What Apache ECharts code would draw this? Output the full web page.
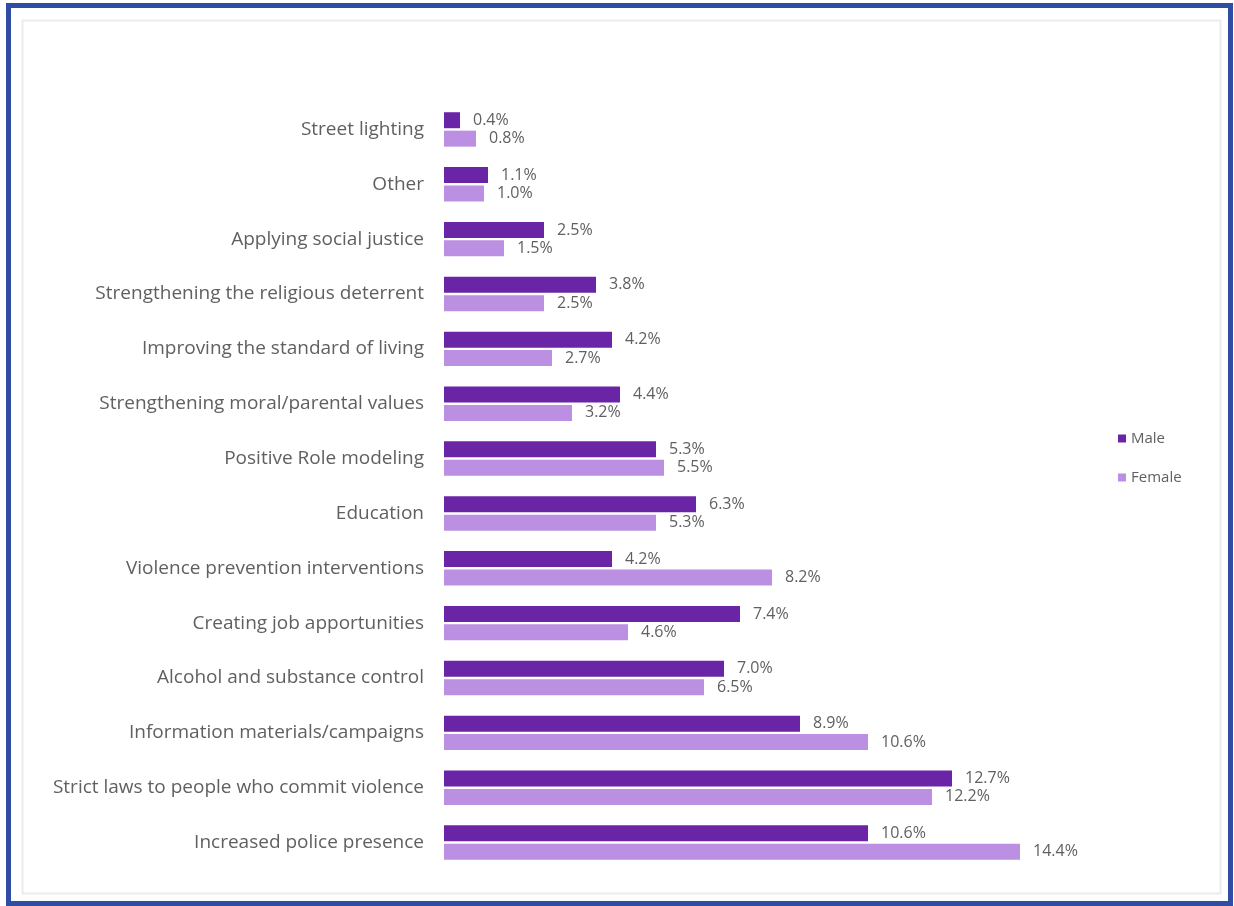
<!DOCTYPE html>
<html>
<head>
<meta charset="utf-8">
<script src="https://cdn.jsdelivr.net/npm/echarts@6/dist/echarts.min.js"></script>
<style>
  html, body { margin: 0; padding: 0; background: #ffffff; }
  #chart { width: 1234px; height: 906px; }
</style>
</head>
<body>
<div id="chart"></div>
<script>
// Suggested measures, listed top to bottom
const categories = [
  'Street lighting',
  'Other',
  'Applying social justice',
  'Strengthening the religious deterrent',
  'Improving the standard of living',
  'Strengthening moral/parental values',
  'Positive Role modeling',
  'Education',
  'Violence prevention interventions',
  'Creating job apportunities',
  'Alcohol and substance control',
  'Information materials/campaigns',
  'Strict laws to people who commit violence',
  'Increased police presence'
];
const maleValues = [0.4, 1.1, 2.5, 3.8, 4.2, 4.4, 5.3, 6.3, 4.2, 7.4, 7.0, 8.9, 12.7, 10.6];
const femaleValues = [0.8, 1.0, 1.5, 2.5, 2.7, 3.2, 5.5, 5.3, 8.2, 4.6, 6.5, 10.6, 12.2, 14.4];
const seriesNames = ['Male', 'Female'];

const textGray = '#606060';
const maleColor = '#6a24a6';
const femaleColor = '#bb8fe2';

const chart = echarts.init(document.getElementById('chart'), null, { renderer: 'canvas' });

function barLabel() {
  return {
    show: true,
    position: 'right',
    distance: 13,
    color: textGray,
    fontFamily: 'Open Sans',
    fontSize: 16,
    formatter: p => p.value.toFixed(1) + '%'
  };
}

chart.setOption({
  backgroundColor: '#ffffff',
  animation: false,
  graphic: [
    {
      type: 'rect',
      shape: { x: 8.5, y: 5.5, width: 1222, height: 898 },
      style: { fill: 'none', stroke: '#2f4ea3', lineWidth: 5 },
      z: 10
    },
    {
      type: 'rect',
      shape: { x: 22.5, y: 20.5, width: 1198, height: 873 },
      style: { fill: 'none', stroke: '#ececec', lineWidth: 2 },
      z: 0
    }
  ],
  legend: {
    orient: 'vertical',
    left: 1113,
    top: 426,
    itemWidth: 8,
    itemHeight: 8,
    itemGap: 24,
    icon: 'rect',
    textStyle: { color: textGray, fontFamily: 'Open Sans', fontSize: 15 },
    data: seriesNames
  },
  grid: {
    left: 444,
    top: 102,
    width: 600,
    height: 768,
    containLabel: false
  },
  xAxis: {
    type: 'value',
    min: 0,
    max: 15,
    show: false,
    splitLine: { show: false }
  },
  yAxis: {
    type: 'category',
    data: categories,
    inverse: true,
    axisLine: { show: false },
    axisTick: { show: false },
    axisLabel: {
      color: textGray,
      fontFamily: 'Open Sans',
      fontSize: 19,
      margin: 20
    }
  },
  series: [
    {
      name: seriesNames[0],
      type: 'bar',
      data: maleValues,
      barWidth: 16,
      barGap: '15%',
      itemStyle: { color: maleColor },
      label: barLabel()
    },
    {
      name: seriesNames[1],
      type: 'bar',
      data: femaleValues,
      barWidth: 16,
      barGap: '15%',
      itemStyle: { color: femaleColor },
      label: barLabel()
    }
  ]
});
</script>
</body>
</html>
